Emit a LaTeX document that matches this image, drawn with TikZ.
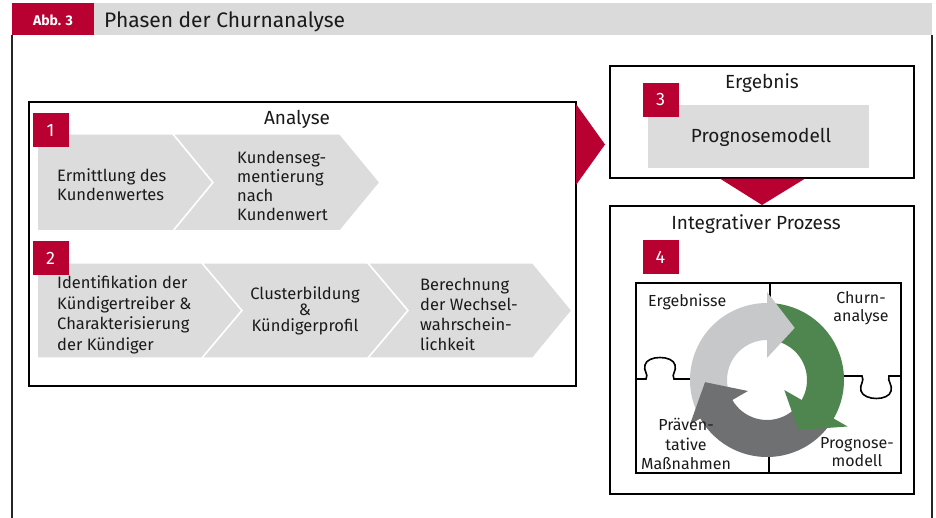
\documentclass[tikz,border=0pt]{standalone}
\usepackage{fontspec}
\setmainfont{Fira Sans}
\usetikzlibrary{calc}
\definecolor{abbred}{HTML}{B80031}
\definecolor{hdrgray}{HTML}{DADADA}
\definecolor{chevgray}{HTML}{DCDCDC}
\definecolor{lightarr}{HTML}{C7C8CA}
\definecolor{greenarr}{HTML}{4F8650}
\definecolor{darkarr}{HTML}{6F7072}
\definecolor{txt}{HTML}{1A1A1A}
\begin{document}
\begin{tikzpicture}[x=1pt,y=-1pt,
  boxframe/.style={draw=black, line width=1.3pt, inner sep=0pt},
  numbox/.style={fill=abbred, text=white, minimum width=36pt, minimum height=34pt, inner sep=0pt, font=\fontsize{18}{20}\selectfont},
  chev/.style={fill=chevgray, draw=white, line width=1.5pt, line join=miter},
  bodytxt/.style={text=txt, inner sep=0pt},
  ttl/.style={text=txt, font=\fontsize{19}{22}\selectfont, inner sep=0pt},
  puz/.style={draw=black, line width=1.6pt},
  frameline/.style={draw=black!85, line width=1.3pt}
]
\useasboundingbox (0,0) rectangle (936,518);
\fill[white] (0,0) rectangle (936,518);
% header
\fill[hdrgray] (12,3) rectangle (932,35);
\node[fill=abbred, minimum width=82pt, minimum height=32pt, inner sep=0pt, anchor=north west] (abb) at (12,3) {};
\node[text=white, font=\bfseries\fontsize{14}{16}\selectfont, anchor=base, inner sep=0pt] (abbt) at (53,26) {Abb. 3};
\node[text=txt, font=\fontsize{21}{24}\selectfont, anchor=base west, inner sep=0pt] (title) at (104,28) {Phasen der Churnanalyse};
\draw[frameline] (12,35) -- (12,518);
\draw[frameline] (932,35) -- (932,518);
% boxes
\node[boxframe, minimum width=547pt, minimum height=284pt] (analyse) at (302.5,244) {};
\node[boxframe, minimum width=304pt, minimum height=112pt] (ergebnis) at (762,122) {};
\node[boxframe, minimum width=304pt, minimum height=288pt] (integ) at (762,350) {};
% red connectors
\fill[abbred] (576,104) -- (605,144.5) -- (576,185) -- cycle;
\fill[abbred] (720,178.6) -- (805,178.6) -- (762,205) -- cycle;
% titles
\node[ttl] (analyseT) at (297,119.5) {Analyse};
\node[ttl] (ergebnisT) at (762,83.5) {Ergebnis};
\node[ttl] (integT) at (756,224.5) {Integrativer Prozess};
% chevrons row 1
\filldraw[chev] (37,134) -- (173,134) -- (213,182.5) -- (173,231) -- (37,231) -- cycle;
\filldraw[chev] (173,134) -- (340,134) -- (380,182.5) -- (340,231) -- (173,231) -- (213,182.5) -- cycle;
% chevrons row 2
\filldraw[chev] (37,263) -- (202,263) -- (242,310.5) -- (202,358) -- (37,358) -- cycle;
\filldraw[chev] (202,263) -- (368,263) -- (408,310.5) -- (368,358) -- (202,358) -- (242,310.5) -- cycle;
\filldraw[chev] (368,263) -- (533,263) -- (572,310.5) -- (533,358) -- (368,358) -- (408,310.5) -- cycle;
% Ergebnis content
\fill[chevgray] (648,105) rectangle (869,168);
\node[bodytxt, font=\fontsize{19}{22}\selectfont] (prog) at (761,137) {Prognosemodell};
% numbers
\node[numbox] (n1) at (50.5,130) {1};
\node[numbox] (n2) at (50.5,258.5) {2};
\node[numbox] (n3) at (660.5,100) {3};
\node[numbox] (n4) at (660.5,257.5) {4};
% chevron texts
\node[bodytxt, font=\fontsize{16.5}{19}\selectfont, align=left, anchor=west] (t1a) at (57,185) {Ermittlung des\\Kundenwertes};
\node[bodytxt, font=\fontsize{16.5}{18.8}\selectfont, align=left, anchor=west] (t1b) at (237,186) {Kundenseg-\\mentierung\\nach\\Kundenwert};
\node[bodytxt, font=\fontsize{16.5}{20.6}\selectfont, align=left, anchor=west] (t2a) at (57,315) {Identifikation der\\Kündigertreiber \&\\Charakterisierung\\der Kündiger};
\node[bodytxt, font=\fontsize{16.5}{16}\selectfont, align=center] (t2b) at (305,311) {Clusterbildung\\\&\\Kündigerprofil};
\node[bodytxt, font=\fontsize{16.5}{20}\selectfont, align=left, anchor=west] (t2c) at (420,314) {Berechnung\\der Wechsel-\\wahrschein-\\lichkeit};
% puzzle
\draw[puz] (636,283) rectangle (901,473);
\draw[puz] (770,283) -- (770,330);
\draw[puz] (769,473) -- (769,430);
\draw[puz] (636,379) -- (646,379) .. controls (649,374) and (643,371) .. (645,365) .. controls (647,355) and (673,355) .. (675,365) .. controls (677,371) and (671,374) .. (674,379) -- (720,379);
\draw[puz] (815,376) -- (862,376) .. controls (865,381) and (859,385) .. (861,391) .. controls (864,401) and (889,401) .. (891,391) .. controls (893,385) and (887,381) .. (889,376) -- (901,376);
% cycle arrows
\begin{scope}[shift={(767,380)}, yscale=-1]
  \fill[lightarr] (205:77) arc[start angle=205, end angle=89, radius=77] -- (89:40) arc[start angle=89, end angle=205, radius=40] -- cycle;
  \fill[greenarr] (85:77) arc[start angle=85, end angle=-31, radius=77] -- (-31:40) arc[start angle=-31, end angle=85, radius=40] -- cycle;
  \fill[darkarr] (-35:77) arc[start angle=-35, end angle=-151, radius=77] -- (-151:40) arc[start angle=-151, end angle=-35, radius=40] -- cycle;
  \fill[lightarr] (90:88) -- (62:59) -- (90:22) -- cycle;
  \fill[greenarr] (-30:93) -- (-58:59) -- (-30:20) -- cycle;
  \fill[darkarr] (-150:89) -- (-178:62) -- (-150:22) -- cycle;
\end{scope}
% puzzle labels
\node[bodytxt, font=\fontsize{16}{18}\selectfont, anchor=base west] (pErg) at (648,306) {Ergebnisse};
\node[bodytxt, font=\fontsize{16}{17.5}\selectfont, align=center] (pChurn) at (861,308) {Churn-\\analyse};
\node[bodytxt, font=\fontsize{16}{19.5}\selectfont, align=center] (pPrae) at (686,444) {Präven-\\tative\\Maßnahmen};
\node[bodytxt, font=\fontsize{16}{18}\selectfont, align=center] (pProg) at (857,452) {Prognose-\\modell};
\end{tikzpicture}
\end{document}
